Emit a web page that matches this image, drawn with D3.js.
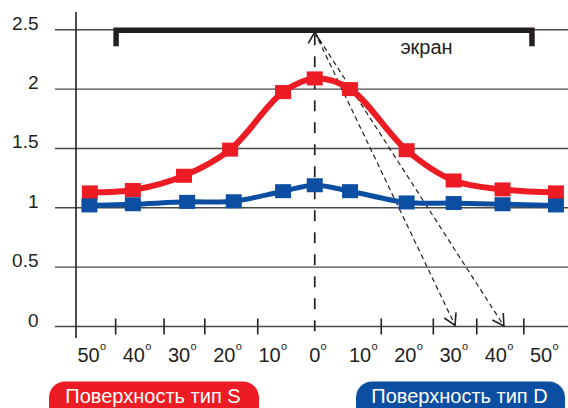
<!DOCTYPE html>
<html><head><meta charset="utf-8">
<script src="https://cdn.jsdelivr.net/npm/d3@7"></script>
<style>html,body{margin:0;padding:0;background:#fff;} svg{display:block;font-family:"Liberation Sans",Arial,sans-serif;}</style>
</head><body><svg id="c" width="568" height="408"></svg>
<script>
// ---- data ----
const yTicks = [0, 0.5, 1, 1.5, 2, 2.5];
const yTickLabels = ["0", "0.5", "1", "1.5", "2", "2.5"];
const xLabelAngles = [-50, -40, -30, -20, -10, 0, 10, 20, 30, 40, 50];
const xLabelTexts = ["50", "40", "30", "20", "10", "0", "10", "20", "30", "40", "50"];
const xTickAngles = [-44, -33.3, -24.3, -12.6, 14.7, 26.2, 35.8, 46.2];
const redAngles = [-49.7, -40.2, -28.9, -18.7, -7.0, 0, 7.8, 20.3, 30.7, 41.5, 53.3];
const redValues = [1.13, 1.15, 1.27, 1.49, 1.975, 2.09, 2.0, 1.485, 1.23, 1.155, 1.13];
const blueAngles = [-49.8, -40.2, -28.2, -17.9, -7.0, 0, 7.8, 20.3, 30.7, 41.5, 53.3];
const blueValues = [1.02, 1.03, 1.05, 1.055, 1.14, 1.19, 1.14, 1.045, 1.04, 1.03, 1.02];
const seriesNames = ["Поверхность тип S", "Поверхность тип D"];
const screenLabel = "экран";
const screenFrom = -43.9, screenTo = 48.0, screenLevel = 2.495, screenLegLevel = 2.36;
const rayApex = [0, 2.48];
const rayTips = [[31.0, 0.01], [41.8, 0.005]];
const verticalBottom = -0.04;

// ---- layout ----
const svg = d3.select("#c");
const x = d3.scaleLinear().domain([-50, 50]).range([88.5, 541]);
const y = d3.scaleLinear().domain([0, 2.5]).range([326.5, 29.75]);
const axisX = 76, gridLeft = 55, gridRight = 568;
const ink = "#231f20";
const red = "#ed1c24", blue = "#0b4ea2";

// grid lines
svg.append("g").selectAll("line").data(yTicks).join("line")
  .attr("x1", gridLeft).attr("x2", gridRight)
  .attr("y1", d => y(d)).attr("y2", d => y(d))
  .attr("stroke", "#4a4a4a").attr("stroke-width", 1.4);

// y axis line
svg.append("line").attr("x1", axisX).attr("x2", axisX).attr("y1", 12).attr("y2", 338)
  .attr("stroke", ink).attr("stroke-width", 1.6);

// x ticks
svg.append("g").selectAll("line").data(xTickAngles).join("line")
  .attr("x1", d => x(d)).attr("x2", d => x(d))
  .attr("y1", y(0) - 8).attr("y2", y(0) + 8)
  .attr("stroke", ink).attr("stroke-width", 1.6);

// y labels
svg.append("g").selectAll("text").data(yTicks).join("text")
  .attr("x", 38.5).attr("y", d => y(d))
  .attr("text-anchor", "end").attr("font-size", 19).attr("fill", ink)
  .text((d, i) => yTickLabels[i]);

// x labels with superscript o
const xl = svg.append("g");
xLabelAngles.forEach((a, i) => {
  const t = xl.append("text").attr("x", x(a)).attr("y", 361.5)
    .attr("text-anchor", "middle").attr("font-size", 20).attr("fill", ink)
    .text(xLabelTexts[i]);
  const w = t.node().getComputedTextLength();
  xl.append("text").attr("x", x(a) + w / 2 + 0.3).attr("y", 350)
    .attr("font-size", 11).attr("fill", ink).text("o");
});

// screen bracket
svg.append("path")
  .attr("d", `M${x(screenFrom)},${y(screenLegLevel)}V${y(screenLevel)}H${x(screenTo)}V${y(screenLegLevel)}`)
  .attr("fill", "none").attr("stroke", ink).attr("stroke-width", 5.5).attr("stroke-linejoin", "miter");
svg.append("text").attr("x", x(24.7)).attr("y", 54).attr("text-anchor", "middle")
  .attr("font-size", 20).attr("fill", ink).text(screenLabel);

// arrow marker
const defs = svg.append("defs");
defs.append("marker").attr("id", "ah").attr("markerUnits", "userSpaceOnUse")
  .attr("markerWidth", 20).attr("markerHeight", 20).attr("viewBox", "-12 -8 14 16")
  .attr("refX", 0).attr("refY", 0).attr("orient", "auto")
  .append("path").attr("d", "M-9,-5.2L0,0L-9,5.2").attr("fill", "none")
  .attr("stroke", ink).attr("stroke-width", 1.3);

// vertical dashed line
svg.append("line").attr("x1", x(0)).attr("x2", x(0))
  .attr("y1", y(verticalBottom)).attr("y2", y(rayApex[1]))
  .attr("stroke", ink).attr("stroke-width", 1.7).attr("stroke-dasharray", "11,11")
  .attr("marker-end", "url(#ah)");

// rays
svg.append("g").selectAll("line").data(rayTips).join("line")
  .attr("x1", x(rayApex[0])).attr("y1", y(rayApex[1]))
  .attr("x2", d => x(d[0])).attr("y2", d => y(d[1]))
  .attr("stroke", ink).attr("stroke-width", 1.2).attr("stroke-dasharray", "5,3.5")
  .attr("marker-end", "url(#ah)");

// series
const line = d3.line().x(d => x(d[0])).y(d => y(d[1])).curve(d3.curveCatmullRom.alpha(0.5));
function drawSeries(angles, values, color, width) {
  const pts = angles.map((a, i) => [a, values[i]]);
  svg.append("path").attr("d", line(pts)).attr("fill", "none")
    .attr("stroke", color).attr("stroke-width", width).attr("stroke-linecap", "round");
  svg.append("g").selectAll("rect").data(pts).join("rect")
    .attr("x", d => x(d[0]) - 8).attr("y", d => y(d[1]) - 7)
    .attr("width", 16).attr("height", 14).attr("fill", color);
}
drawSeries(redAngles, redValues, red, 6);
drawSeries(blueAngles, blueValues, blue, 5);

// legend pills
const legends = [
  {name: seriesNames[0], color: red, x0: 49, x1: 259},
  {name: seriesNames[1], color: blue, x0: 356, x1: 565}
];
legends.forEach(l => {
  svg.append("rect").attr("x", l.x0).attr("y", 381.5).attr("width", l.x1 - l.x0).attr("height", 40)
    .attr("rx", 16).attr("fill", l.color);
  svg.append("text").attr("x", (l.x0 + l.x1) / 2 - 1).attr("y", 402.7).attr("text-anchor", "middle")
    .attr("font-size", 20).attr("fill", "#fff").text(l.name);
});
</script></body></html>
